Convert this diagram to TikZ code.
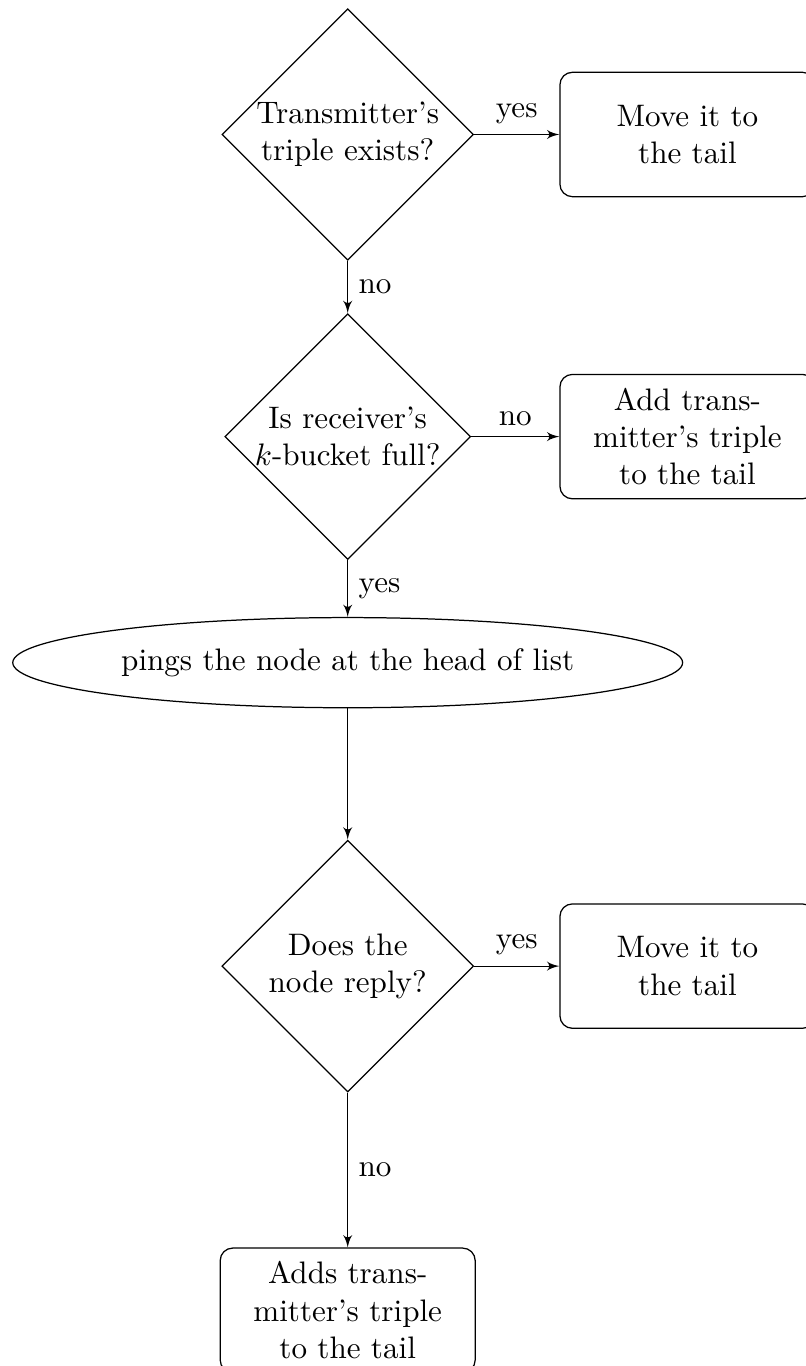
\documentclass[tikz,border=0pt]{standalone}
\usetikzlibrary{shapes.geometric, arrows}

\begin{document}
\begin{tikzpicture}
		\tikzstyle{decision} = [diamond,draw,text width=6em,text centered,inner sep=0pt]
		\tikzstyle{block} = [rectangle,draw,rounded corners,text width=6.5em,align=center,minimum width=8.2em,minimum height=4em]
		\tikzstyle{cloud} = [ellipse,draw,minimum height=2.9em]
		\tikzstyle{line} = [draw,-latex']
		\useasboundingbox (0,0) rectangle (9.11,-15.44);
		\node[decision] (n1) at (3.93,-1.52) {Transmitter's triple exists?};
		\node[block] (n2) at (7.77,-1.52) {Move it to\\the tail};
		\node[decision] (n3) at (3.93,-4.935) {Is receiver's $k$-bucket full?};
		\node[block] (n4) at (7.77,-4.935) {Add trans-\\mitter's triple\\to the tail};
		\node[cloud] (n5) at (3.93,-7.49) {pings the node at the head of list};
		\node[decision] (n6) at (3.93,-10.92) {Does the node reply?};
		\node[block] (n7) at (7.77,-10.92) {Move it to\\the tail};
		\node[block] (n8) at (3.93,-14.81) {Adds trans-\\mitter's triple\\to the tail};
		\path[line] (n1)--node[above] {yes} (n2);
		\path[line] (n1)--node[right] {no} (n3);
		\path[line] (n3)--node[above] {no} (n4);
		\path[line] (n3)--node[right] {yes} (n5);
		\path[line] (n5)--(n6);
		\path[line] (n6)--node[above] {yes} (n7);
		\path[line] (n6)--node[right] {no} (n8);
		\end{tikzpicture}
\end{document}
